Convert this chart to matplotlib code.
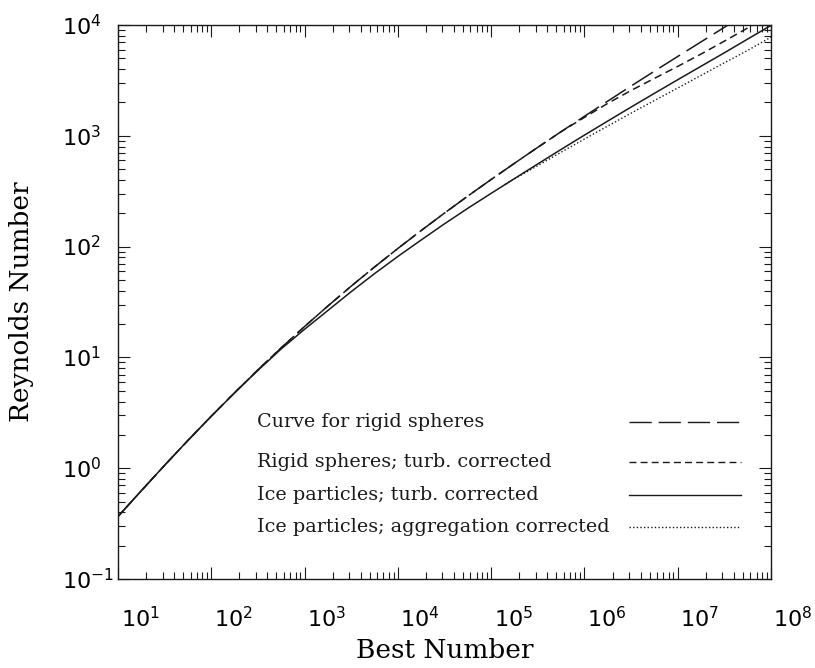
import math
import matplotlib
matplotlib.use("Agg")
import matplotlib.pyplot as plt
import matplotlib.transforms as mtransforms
from matplotlib.ticker import LogLocator, FuncFormatter, NullFormatter

plt.rcParams['font.family'] = 'DejaVu Serif'
plt.rcParams['mathtext.fontset'] = 'dejavusans'

# Best number at quarter-decade steps
best = [1e1, 1.78e1, 3.16e1, 5.62e1, 1e2, 1.78e2, 3.16e2, 5.62e2,
        1e3, 1.78e3, 3.16e3, 5.62e3, 1e4, 1.78e4, 3.16e4, 5.62e4,
        1e5, 1.78e5, 3.16e5, 5.62e5, 1e6, 1.78e6, 3.16e6, 5.62e6,
        1e7, 1.78e7, 3.16e7, 5.62e7, 1e8]

# rigid spheres (stops just past the top of the frame)
best_rigid = best[:27] + [4.0e7]
re_rigid = [0.367, 0.627, 1.063, 1.782, 2.948, 4.808, 7.724, 12.21,
            19.01, 29.13, 43.97, 65.45, 96.18, 139.7, 200.7, 285.7,
            403.2, 564.9, 786.4, 1089, 1500, 2057, 2810, 3827,
            5198, 7042, 9521, 10760]

# rigid spheres, turbulence corrected
re_rigid_turb = [0.367, 0.627, 1.063, 1.782, 2.948, 4.808, 7.724, 12.21,
                 19.01, 29.13, 43.97, 65.45, 96.18, 139.7, 200.7, 285.7,
                 403.2, 564.9, 786.4, 1089, 1466, 1963, 2564, 3296,
                 4227, 5470, 7145, 9397, 12300]

# ice particles, turbulence corrected
re_ice = [0.366, 0.627, 1.063, 1.782, 2.948, 4.79, 7.64, 11.94,
          17.95, 26.55, 39.2, 57.0, 81.5, 114.8, 160.5, 221.7,
          302.3, 411.2, 556.8, 753.2, 1014, 1359, 1815, 2415,
          3205, 4243, 5608, 7464, 9908]

# ice particles, aggregation corrected
best_aggr = [1.41e5, 1.78e5, 3.16e5, 5.62e5, 1e6, 1.78e6, 3.16e6, 5.62e6,
             1e7, 1.78e7, 3.16e7, 5.62e7, 1e8]
re_aggr = [363, 409, 538, 711, 935, 1225, 1599, 2080,
           2697, 3509, 4557, 5896, 7780]

labels = ["Curve for rigid spheres",
          "Rigid spheres; turb. corrected",
          "Ice particles; turb. corrected",
          "Ice particles; aggregation corrected"]

long_dash = (0, (16, 5))
short_dash = (0, (5, 3))
dotted = (0, (1, 1.6))
styles = [long_dash, short_dash, '-', dotted]
ink = '#1a1a1a'

fig = plt.figure(figsize=(8.15, 6.68), dpi=100)
ax = fig.add_axes([0.1448, 0.1332, 0.8012, 0.8294])

ax.plot(best_rigid, re_rigid, color=ink, lw=1.1, ls=long_dash)
ax.plot(best, re_rigid_turb, color=ink, lw=1.1, ls=short_dash)
ax.plot(best, re_ice, color=ink, lw=1.1, ls='-')
ax.plot(best_aggr, re_aggr, color=ink, lw=1.0, ls=dotted)

ax.set_xscale('log')
ax.set_yscale('log')
ax.set_xlim(1e1, 1e8)
ax.set_ylim(1e-1, 1e4)

ax.xaxis.set_major_locator(LogLocator(base=10, numticks=20))
ax.yaxis.set_major_locator(LogLocator(base=10, numticks=20))
ax.xaxis.set_minor_locator(LogLocator(base=10, subs=range(2, 10), numticks=20))
ax.yaxis.set_minor_locator(LogLocator(base=10, subs=range(2, 10), numticks=20))
powfmt = FuncFormatter(lambda v, pos: r'$10^{%d}$' % round(math.log10(v)))
ax.xaxis.set_major_formatter(powfmt)
ax.yaxis.set_major_formatter(powfmt)
ax.xaxis.set_minor_formatter(NullFormatter())
ax.yaxis.set_minor_formatter(NullFormatter())

ax.tick_params(which='both', direction='in', top=True, right=True, width=0.8, color=ink)
ax.tick_params(which='major', length=8.5, labelsize=16)
ax.tick_params(which='minor', length=5)
ax.tick_params(axis='x', which='major', pad=20)
ax.tick_params(axis='y', which='major', pad=40)
for sp in ax.spines.values():
    sp.set_linewidth(1.0)
    sp.set_color(ink)

# x labels sit a little to the right of their ticks
xshift = mtransforms.ScaledTranslation(0.22, 0, fig.dpi_scale_trans)
for lab in ax.get_xticklabels():
    lab.set_transform(lab.get_transform() + xshift)
for lab in ax.get_yticklabels():
    lab.set_horizontalalignment('left')

ax.set_xlabel("Best Number", fontsize=19)
ax.set_ylabel("Reynolds Number", fontsize=19)
ax.xaxis.set_label_coords(0.5, -0.1065)
ax.yaxis.set_label_coords(-0.128, 0.5)

# key: text on the left, line sample on the right
rows = [0.2834, 0.2112, 0.1516, 0.0939]
for lab, st, yy in zip(labels, styles, rows):
    ax.text(0.213, yy, lab, transform=ax.transAxes, fontsize=13.8,
            ha='left', va='center', color=ink)
    ax.plot([0.7825, 0.954], [yy, yy], transform=ax.transAxes,
            color=ink, lw=1.0, ls=st)

fig.savefig("out.png", dpi=100)
